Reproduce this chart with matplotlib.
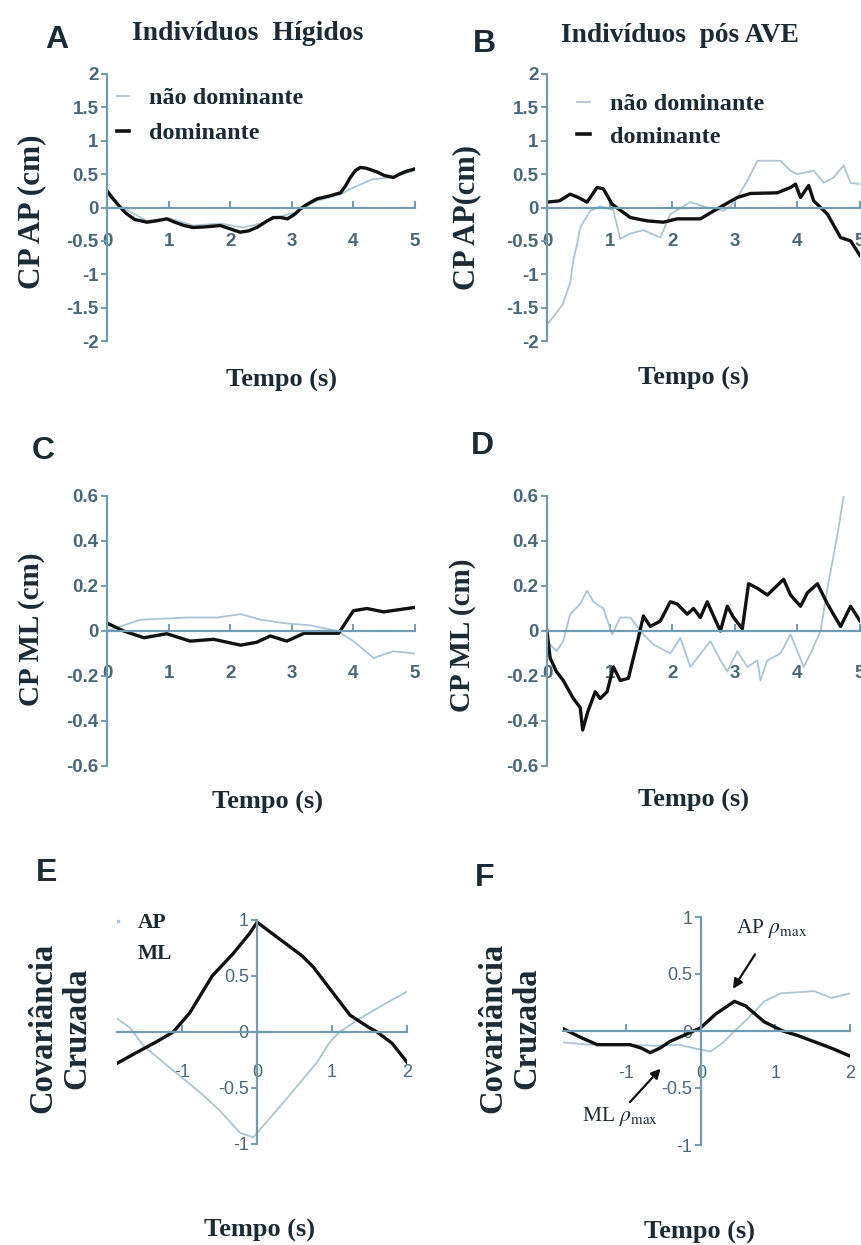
import matplotlib
matplotlib.use("Agg")
import matplotlib.pyplot as plt
from matplotlib.lines import Line2D

plt.rcParams["mathtext.fontset"] = "stix"

W, H = 861, 1245
fig = plt.figure(figsize=(W / 100, H / 100), dpi=100)
fig.patch.set_facecolor("white")

LIGHT = "#a9c5d6"
DARK = "#111111"
AXC = "#6f9cb4"
TICKC = "#46687a"
TXT = "#1b2b35"
SERIF = "Liberation Serif"
SANS = "Liberation Sans"

# ---------------- data ----------------
A_t_dom = [0, 0.1, 0.2, 0.3, 0.45, 0.65, 0.8, 0.97, 1.1, 1.25, 1.4, 1.6, 1.84, 2.0, 2.16, 2.3, 2.45, 2.6, 2.7, 2.82, 2.93, 3.05, 3.14, 3.25, 3.41, 3.6, 3.79, 3.87, 3.95, 4.03, 4.11, 4.2, 4.3, 4.39, 4.5, 4.65, 4.75, 4.85, 5.0]
A_dom = [0.25, 0.13, 0.02, -0.08, -0.18, -0.22, -0.2, -0.17, -0.22, -0.27, -0.3, -0.29, -0.27, -0.32, -0.37, -0.35, -0.29, -0.2, -0.15, -0.15, -0.17, -0.1, -0.02, 0.05, 0.13, 0.17, 0.22, 0.32, 0.45, 0.55, 0.6, 0.59, 0.56, 0.53, 0.48, 0.45, 0.5, 0.54, 0.58]
A_t_nd = [0, 0.2, 0.65, 1.0, 1.4, 1.85, 2.2, 2.5, 2.8, 3.1, 3.4, 3.8, 4.0, 4.3, 4.6, 5.0]
A_nd = [0.2, 0.02, -0.2, -0.16, -0.27, -0.24, -0.3, -0.24, -0.14, -0.06, 0.1, 0.2, 0.3, 0.42, 0.45, 0.55]

B_t_dom = [0, 0.2, 0.37, 0.5, 0.64, 0.8, 0.9, 1.04, 1.33, 1.6, 1.86, 2.08, 2.45, 2.72, 3.04, 3.25, 3.68, 3.89, 3.97, 4.05, 4.18, 4.26, 4.37, 4.48, 4.69, 4.85, 5.0]
B_dom = [0.08, 0.1, 0.2, 0.15, 0.08, 0.3, 0.28, 0.05, -0.15, -0.2, -0.22, -0.17, -0.17, -0.02, 0.15, 0.21, 0.22, 0.3, 0.35, 0.15, 0.33, 0.1, 0.0, -0.1, -0.45, -0.5, -0.72]
B_t_nd = [0, 0.1, 0.25, 0.37, 0.42, 0.48, 0.53, 0.69, 0.85, 1.06, 1.17, 1.33, 1.54, 1.81, 1.97, 2.29, 2.56, 2.82, 2.98, 3.2, 3.36, 3.73, 3.89, 4.0, 4.26, 4.42, 4.58, 4.74, 4.85, 5.0]
B_nd = [-1.75, -1.64, -1.45, -1.13, -0.79, -0.55, -0.3, -0.05, 0.02, -0.04, -0.47, -0.39, -0.34, -0.45, -0.1, 0.08, 0.0, -0.05, 0.06, 0.4, 0.7, 0.7, 0.55, 0.5, 0.55, 0.37, 0.45, 0.63, 0.37, 0.35]

C_t_dom = [0, 0.27, 0.6, 0.97, 1.35, 1.73, 2.17, 2.43, 2.65, 2.92, 3.2, 3.5, 3.76, 4.0, 4.22, 4.49, 5.0]
C_dom = [0.035, 0.0, -0.03, -0.012, -0.045, -0.037, -0.063, -0.05, -0.022, -0.045, -0.01, -0.01, -0.01, 0.09, 0.1, 0.085, 0.105]
C_t_nd = [0, 0.54, 1.3, 1.79, 2.17, 2.5, 2.87, 3.3, 3.74, 4.0, 4.33, 4.65, 5.0]
C_nd = [0.0, 0.05, 0.06, 0.06, 0.075, 0.05, 0.035, 0.025, 0.0, -0.045, -0.12, -0.09, -0.1]

D_t_dom = [0, 0.05, 0.15, 0.26, 0.42, 0.53, 0.57, 0.65, 0.77, 0.85, 0.96, 1.06, 1.17, 1.3, 1.38, 1.46, 1.54, 1.65, 1.81, 1.97, 2.08, 2.24, 2.34, 2.45, 2.56, 2.66, 2.77, 2.88, 2.98, 3.12, 3.22, 3.36, 3.52, 3.78, 3.89, 4.05, 4.16, 4.32, 4.48, 4.69, 4.85, 5.0]
D_dom = [0.0, -0.12, -0.18, -0.22, -0.3, -0.34, -0.44, -0.36, -0.27, -0.3, -0.27, -0.16, -0.22, -0.21, -0.12, -0.03, 0.067, 0.02, 0.044, 0.13, 0.12, 0.075, 0.1, 0.06, 0.13, 0.067, 0.0, 0.11, 0.06, 0.01, 0.21, 0.19, 0.16, 0.23, 0.16, 0.11, 0.17, 0.21, 0.12, 0.02, 0.11, 0.045]
D_t_nd = [0, 0.15, 0.26, 0.37, 0.53, 0.64, 0.74, 0.9, 1.04, 1.17, 1.33, 1.54, 1.7, 1.97, 2.13, 2.29, 2.4, 2.61, 2.77, 2.88, 3.04, 3.2, 3.36, 3.41, 3.52, 3.73, 3.89, 4.0, 4.1, 4.21, 4.37, 4.48, 4.64, 4.74]
D_nd = [-0.045, -0.09, -0.045, 0.075, 0.12, 0.18, 0.13, 0.1, -0.015, 0.06, 0.06, -0.015, -0.06, -0.1, -0.03, -0.16, -0.12, -0.045, -0.13, -0.18, -0.09, -0.16, -0.13, -0.22, -0.13, -0.1, -0.015, -0.09, -0.16, -0.1, 0.0, 0.19, 0.43, 0.6]

E_lag_ap = [-1.87, -1.6, -1.35, -1.12, -0.9, -0.6, -0.32, -0.1, 0.0, 0.3, 0.6, 0.75, 1.0, 1.24, 1.47, 1.6, 1.8, 2.0]
E_ap = [-0.28, -0.18, -0.09, 0.0, 0.17, 0.5, 0.7, 0.88, 0.98, 0.83, 0.68, 0.58, 0.36, 0.15, 0.05, 0.0, -0.1, -0.27]
E_lag_ml = [-1.87, -1.7, -1.52, -1.2, -0.76, -0.5, -0.23, -0.05, 0.35, 0.8, 0.97, 1.1, 1.37, 1.7, 2.0]
E_ml = [0.12, 0.04, -0.12, -0.3, -0.54, -0.7, -0.9, -0.94, -0.63, -0.27, -0.09, 0.0, 0.12, 0.25, 0.36]

F_lag_ap = [-1.85, -1.6, -1.39, -1.1, -0.95, -0.8, -0.68, -0.55, -0.41, -0.2, 0.0, 0.2, 0.45, 0.6, 0.85, 1.1, 1.3, 1.75, 2.0]
F_ap = [0.02, -0.06, -0.12, -0.12, -0.12, -0.15, -0.19, -0.15, -0.09, -0.03, 0.03, 0.15, 0.26, 0.22, 0.08, 0.0, -0.04, -0.15, -0.22]
F_lag_ml = [-1.85, -1.5, -1.0, -0.6, -0.3, -0.1, 0.13, 0.3, 0.45, 0.63, 0.85, 1.07, 1.52, 1.75, 2.0]
F_ml = [-0.1, -0.12, -0.12, -0.13, -0.12, -0.15, -0.18, -0.1, 0.0, 0.11, 0.26, 0.33, 0.35, 0.29, 0.33]

AP_yticks = [2, 1.5, 1, 0.5, 0, -0.5, -1, -1.5, -2]
AP_ylabels = ["2", "1.5", "1", "0.5", "0", "-0.5", "-1", "-1.5", "-2"]
ML_yticks = [0.6, 0.4, 0.2, 0, -0.2, -0.4, -0.6]
ML_ylabels = ["0.6", "0.4", "0.2", "0", "-0.2", "-0.4", "-0.6"]
T_xticks = [0, 1, 2, 3, 4, 5]
CC_yticks = [1, 0.5, 0, -0.5, -1]
CC_ylabels = ["1", "0.5", "0", "-0.5", "-1"]
CC_xticks = [-1, 0, 1, 2]


def px_axes(x0, x1, ytop, ybot):
    return fig.add_axes([x0 / W, 1 - ybot / H, (x1 - x0) / W, (ybot - ytop) / H])


def style(ax, xlim, ylim, xticks, yticks, ylabels, xpad_px, fs=13.5, bold=True):
    ax.set_xlim(*xlim)
    ax.set_ylim(*ylim)
    for s in ("top", "right"):
        ax.spines[s].set_visible(False)
    ax.spines["left"].set_position(("data", 0))
    ax.spines["bottom"].set_position(("data", 0))
    for s in ("left", "bottom"):
        ax.spines[s].set_color(AXC)
        ax.spines[s].set_linewidth(1.6)
    ax.set_xticks(xticks)
    ax.set_xticklabels([str(v) for v in xticks])
    ax.set_yticks(yticks)
    ax.set_yticklabels(ylabels)
    ax.tick_params(axis="y", direction="out", length=4, width=1.4, color=AXC,
                   labelcolor=TICKC, labelsize=fs, pad=2)
    ax.tick_params(axis="x", direction="in", length=5, width=1.4, color=AXC,
                   labelcolor=TICKC, labelsize=fs, pad=xpad_px * 0.72)
    for lab in ax.get_xticklabels() + ax.get_yticklabels():
        lab.set_fontfamily(SANS)
        lab.set_fontweight("bold" if bold else "normal")
    ax.patch.set_alpha(0)


def ftext(x, y, s, size, family=SERIF, weight="bold", rotation=0, ha="center", va="center", **kw):
    fig.text(x / W, 1 - y / H, s, fontsize=size, family=family, fontweight=weight,
             rotation=rotation, ha=ha, va=va, color=TXT, **kw)


def add_legend(ax, x, y, handles, labels, size=17.5, spacing=0.55, hl=0.5, tp=0.8):
    leg = ax.legend(handles, labels, loc="upper left", bbox_to_anchor=(x / W, 1 - y / H),
                    bbox_transform=fig.transFigure, frameon=False, handlelength=hl,
                    handletextpad=tp, labelspacing=spacing, borderaxespad=0, borderpad=0,
                    prop={"family": SERIF, "weight": "bold", "size": size})
    for t in leg.get_texts():
        t.set_color(TXT)
    return leg


# ---------------- Panel A ----------------
axA = px_axes(107, 415, 74, 341)
axA.plot(A_t_nd, A_nd, color=LIGHT, lw=1.3)
axA.plot(A_t_dom, A_dom, color=DARK, lw=2.4, solid_joinstyle="round")
style(axA, (0, 5), (-2, 2), T_xticks, AP_yticks, AP_ylabels, 26)
add_legend(axA, 117, 87, [Line2D([], [], color=LIGHT, lw=1.3), Line2D([], [], color=DARK, lw=2.6)],
           ["não dominante", "dominante"])

# ---------------- Panel B ----------------
axB = px_axes(547, 860, 74, 341)
axB.plot(B_t_nd, B_nd, color=LIGHT, lw=1.3)
axB.plot(B_t_dom, B_dom, color=DARK, lw=2.4, solid_joinstyle="round")
style(axB, (0, 5), (-2, 2), T_xticks, AP_yticks, AP_ylabels, 26)
add_legend(axB, 577, 93, [Line2D([], [], color=LIGHT, lw=1.3), Line2D([], [], color=DARK, lw=2.6)],
           ["não dominante", "dominante"], spacing=0.45, hl=0.55)

# ---------------- Panel C ----------------
axC = px_axes(107, 415, 496, 766)
axC.plot(C_t_nd, C_nd, color=LIGHT, lw=1.3)
axC.plot(C_t_dom, C_dom, color=DARK, lw=2.4, solid_joinstyle="round")
style(axC, (0, 5), (-0.6, 0.6), T_xticks, ML_yticks, ML_ylabels, 34)

# ---------------- Panel D ----------------
axD = px_axes(547, 860, 496, 766)
axD.plot(D_t_nd, D_nd, color=LIGHT, lw=1.3)
axD.plot(D_t_dom, D_dom, color=DARK, lw=2.4, solid_joinstyle="round")
style(axD, (0, 5), (-0.6, 0.6), T_xticks, ML_yticks, ML_ylabels, 34)

# ---------------- Panel E ----------------
axE = px_axes(117, 407, 920, 1144)
axE.plot(E_lag_ml, E_ml, color=LIGHT, lw=1.3)
axE.plot(E_lag_ap, E_ap, color=DARK, lw=2.4, solid_joinstyle="round")
style(axE, (-1.87, 2.0), (-1, 1), CC_xticks, CC_yticks, CC_ylabels, 32, fs=13, bold=False)
add_legend(axE, 114, 913, [Line2D([], [], color=LIGHT, lw=0, marker="s", ms=2),
                           Line2D([], [], lw=0)], ["AP", "ML"], size=15.5, spacing=0.5,
           hl=0.4, tp=0.7)

# ---------------- Panel F ----------------
axF = px_axes(563, 850, 917, 1145)
axF.plot(F_lag_ml, F_ml, color=LIGHT, lw=1.3)
axF.plot(F_lag_ap, F_ap, color=DARK, lw=2.4, solid_joinstyle="round")
style(axF, (-1.85, 2.0), (-1, 1), CC_xticks, CC_yticks, CC_ylabels, 34, fs=13, bold=False)
axF.annotate(r"AP $\rho_{\mathrm{max}}$", xy=(0.43, 0.37), xytext=(0.47, 0.9),
             textcoords="data", ha="left", va="center", fontsize=15.5, family=SERIF, color=TXT,
             arrowprops=dict(arrowstyle="-|>", color=DARK, lw=1.6, mutation_scale=14,
                             shrinkA=10, shrinkB=0), annotation_clip=False)
axF.annotate(r"ML $\rho_{\mathrm{max}}$", xy=(-0.54, -0.33), xytext=(-1.6, -0.75),
             textcoords="data", ha="left", va="center", fontsize=15.5, family=SERIF, color=TXT,
             arrowprops=dict(arrowstyle="-|>", color=DARK, lw=1.6, mutation_scale=14,
                             shrinkA=0, shrinkB=0, relpos=(0.6, 1.0)), annotation_clip=False)

# ---------------- texts ----------------
ftext(57, 40, "A", 23, family=SANS)
ftext(484, 44, "B", 23, family=SANS)
ftext(43, 451, "C", 23, family=SANS)
ftext(482, 446, "D", 23, family=SANS)
ftext(47, 873, "E", 23, family=SANS)
ftext(485, 878, "F", 23, family=SANS)

ftext(248, 33, "Indivíduos  Hígidos", 20)
ftext(680, 35, "Indivíduos  pós AVE", 19.8)

ftext(32, 212, "CP AP (cm)", 22.5, rotation=90)
ftext(467, 218, "CP AP(cm)", 22, rotation=90)
ftext(32, 629, "CP ML (cm)", 21, rotation=90)
ftext(463, 635, "CP ML (cm)", 21, rotation=90)
ftext(60, 1028, "Covariância\nCruzada", 23.5, rotation=90, linespacing=1.15)
ftext(510, 1028, "Covariância\nCruzada", 23.5, rotation=90, linespacing=1.15)

for (x, y) in [(282, 380), (693, 378), (268, 802), (693, 800), (260, 1230), (699, 1232)]:
    ftext(x, y, "Tempo (s)", 19)

fig.savefig("out.png", dpi=100, facecolor="white")
